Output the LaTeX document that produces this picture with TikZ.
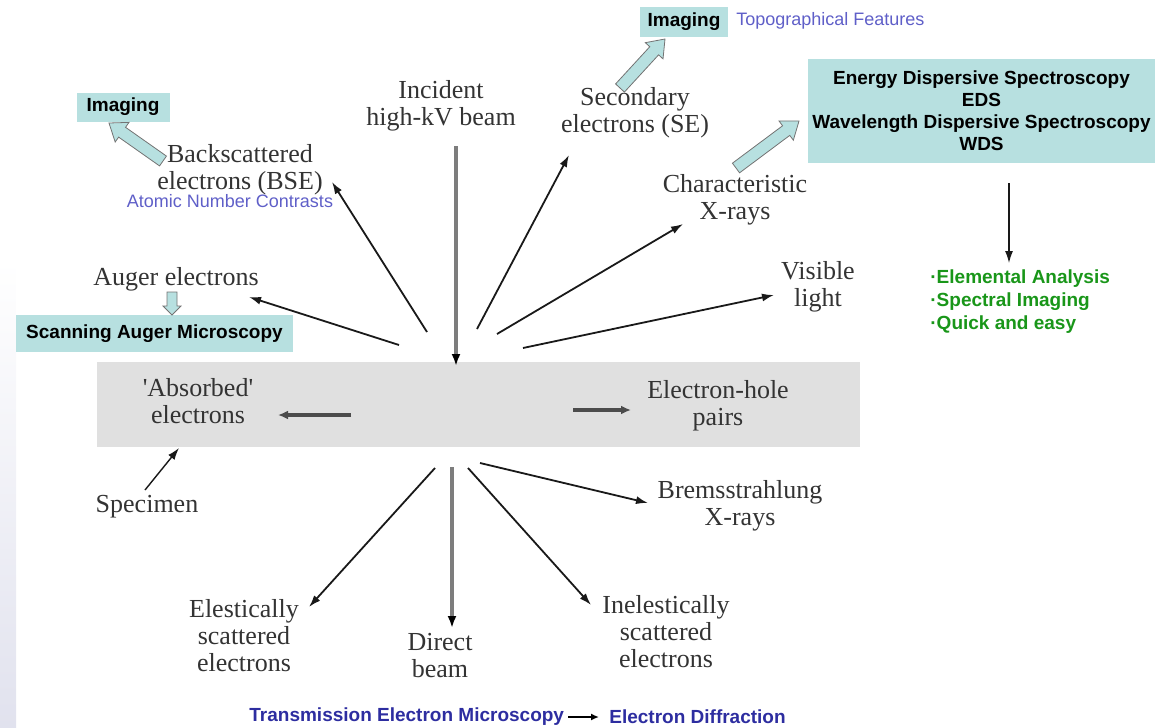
\documentclass[tikz,border=0pt]{standalone}
\usepackage{fontspec}
\setmainfont{Liberation Serif}
\setsansfont{Liberation Sans}
\usetikzlibrary{calc,positioning,arrows.meta}
\definecolor{boxcyan}{RGB}{183,224,224}
\definecolor{boxgray}{RGB}{224,224,224}
\definecolor{noteblue}{RGB}{95,95,200}
\definecolor{temblue}{RGB}{45,45,160}
\definecolor{edsgreen}{RGB}{25,150,25}
\definecolor{beamgray}{RGB}{125,125,125}
\definecolor{edgelav}{RGB}{225,226,238}

% block arrow: tail, tip, shaft half width, head half width, head length
\newcommand{\blockarrow}[5]{%
  \coordinate (ba-c) at ($(#2)!#5!(#1)$);
  \draw[black!55,fill=boxcyan,line width=0.4pt,line join=miter]
    ($(#1)!#3!90:(#2)$) -- ($(ba-c)!#3!90:(#2)$) -- ($(ba-c)!#4!90:(#2)$) -- (#2)
    -- ($(ba-c)!#4!-90:(#2)$) -- ($(ba-c)!#3!-90:(#2)$) -- ($(#1)!#3!-90:(#2)$) -- cycle;
}

\begin{document}
\begin{tikzpicture}[x=0.5pt,y=-0.5pt,
  lbl/.style={align=center,inner sep=0pt,text=black!80,font=\fontsize{13}{13.5}\selectfont},
  tag/.style={fill=boxcyan,inner sep=0pt,align=center,font=\sffamily\bfseries\fontsize{9.5}{11}\selectfont},
  note/.style={inner sep=0pt,text=noteblue,font=\sffamily\fontsize{9}{11}\selectfont},
  ray/.style={-{Latex[length=6pt,width=4pt]},line width=0.9pt,draw=black!90},
  beam/.style={-{Latex[length=6pt,width=4.5pt,black]},line width=2pt,draw=beamgray},
  sidearr/.style={-{Latex[length=5pt,width=4.5pt]},line width=1.8pt,draw=black!70}]
  \useasboundingbox (0,0) rectangle (1157,728);
  \shade[top color=white,bottom color=edgelav] (0,260) rectangle (16,728);

  % specimen
  \node[fill=boxgray,minimum width=381.5pt,minimum height=42.5pt,inner sep=0pt] (spec) at (478.5,404.5) {};
  \node[lbl] (absorbed) at (198,401) {\textquotesingle Absorbed\textquotesingle\\electrons};
  \node[lbl] (ehp) at (718,406) {Electron-hole\\pairs};
  \coordinate (abs-s) at (351,415);
  \coordinate (abs-e) at (278,415);
  \coordinate (ehp-s) at (573,410);
  \coordinate (ehp-e) at (631,410);
  \draw[sidearr] (abs-s) -- (abs-e);
  \draw[sidearr] (ehp-s) -- (ehp-e);

  % upper labels
  \node[lbl] (incident) at (441,106) {Incident\\high-kV beam};
  \node[lbl] (bse) at (240,170) {Backscattered\\electrons (BSE)};
  \node[note] (atomic) at (230,201) {Atomic Number Contrasts};
  \node[tag,minimum width=46.5pt,minimum height=14.5pt] (imgbse) at (123,107) {Imaging};
  \node[lbl] (se) at (635,113) {Secondary\\electrons (SE)};
  \node[tag,minimum width=44pt,minimum height=15pt] (imgse) at (684,22) {Imaging};
  \node[note,anchor=west] (topo) at (736,21) {Topographical Features};
  \node[lbl] (charx) at (735,200) {Characteristic\\X-rays};
  \node[tag,minimum width=173.5pt,minimum height=52pt] (eds) at (981.5,111)
    {Energy Dispersive Spectroscopy\\EDS\\Wavelength Dispersive Spectroscopy\\WDS};
  \node[anchor=north west,inner sep=0pt,align=left,text=edsgreen,
    font=\sffamily\bfseries\fontsize{9.5}{11.5}\selectfont] (edsuse) at (930,269)
    {·Elemental Analysis\\·Spectral Imaging\\·Quick and easy};
  \node[lbl] (visible) at (818,287) {Visible\\light};
  \node[lbl] (auger) at (176,279) {Auger electrons};
  \node[tag,minimum width=138.5pt,minimum height=18.5pt] (sam) at (154.5,333.5) {Scanning Auger Microscopy};

  % lower labels
  \node[lbl] (specimen) at (147,507) {Specimen};
  \node[lbl] (brems) at (740,506) {Bremsstrahlung\\X-rays};
  \node[lbl] (elastic) at (244,636) {Elestically\\scattered\\electrons};
  \node[lbl] (direct) at (440,656) {Direct\\beam};
  \node[lbl] (inelastic) at (666,632) {Inelestically\\scattered\\electrons};
  \node[anchor=west,inner sep=0pt,text=temblue,font=\sffamily\bfseries\fontsize{9.5}{11}\selectfont] (tem) at (249,717) {Transmission Electron Microscopy};
  \node[anchor=west,inner sep=0pt,text=temblue,font=\sffamily\bfseries\fontsize{9.5}{11}\selectfont] (diff) at (609,717) {Electron Diffraction};
  \draw[-{Latex[length=4pt,width=3.5pt]},line width=0.8pt] ([xshift=2pt]tem.east) -- ([xshift=-5pt]diff.west);

  % beams
  \coordinate (inc-s) at (456,146);
  \coordinate (inc-e) at (456,366);
  \coordinate (dir-s) at (452,467);
  \coordinate (dir-e) at (452,628);
  \draw[beam] (inc-s) -- (inc-e);
  \draw[beam] (dir-s) -- (dir-e);

  % emitted signals
  \coordinate (bse-s) at (427,332);
  \coordinate (bse-e) at (332,182);
  \coordinate (aug-s) at (399,345);
  \coordinate (aug-e) at (249,297);
  \coordinate (se-s) at (477,329);
  \coordinate (se-e) at (569,155);
  \coordinate (chx-s) at (497,334);
  \coordinate (chx-e) at (683,224);
  \coordinate (vis-s) at (523,348);
  \coordinate (vis-e) at (774,295);
  \coordinate (ela-s) at (435,468);
  \coordinate (ela-e) at (309,607);
  \coordinate (ine-s) at (468,468);
  \coordinate (ine-e) at (591,605);
  \coordinate (brm-s) at (480,463);
  \coordinate (brm-e) at (648,503);
  \coordinate (spc-s) at (145,490);
  \coordinate (spc-e) at (179,448);
  \coordinate (eds-s) at (1009,183);
  \coordinate (eds-e) at (1009,263);
  \draw[ray] (bse-s) -- (bse-e);
  \draw[ray] (aug-s) -- (aug-e);
  \draw[ray] (se-s) -- (se-e);
  \draw[ray] (chx-s) -- (chx-e);
  \draw[ray] (vis-s) -- (vis-e);
  \draw[ray] (ela-s) -- (ela-e);
  \draw[ray] (ine-s) -- (ine-e);
  \draw[ray] (brm-s) -- (brm-e);
  \draw[ray,line width=0.7pt] (spc-s) -- (spc-e);
  \draw[ray,line width=0.6pt] (eds-s) -- (eds-e);

  % uses of the signals
  \coordinate (fbse-s) at (163,161);
  \coordinate (fbse-e) at (109,123);
  \coordinate (fse-s) at (620,88);
  \coordinate (fse-e) at (665,39);
  \coordinate (fchx-s) at (736,168);
  \coordinate (fchx-e) at (799,121);
  \coordinate (faug-s) at (172,292);
  \coordinate (faug-e) at (172,315);
  \blockarrow{fbse-s}{fbse-e}{3pt}{6pt}{8pt}
  \blockarrow{fse-s}{fse-e}{3pt}{6pt}{8pt}
  \blockarrow{fchx-s}{fchx-e}{3pt}{6pt}{8pt}
  \blockarrow{faug-s}{faug-e}{2.5pt}{4.5pt}{4.5pt}
\end{tikzpicture}
\end{document}
